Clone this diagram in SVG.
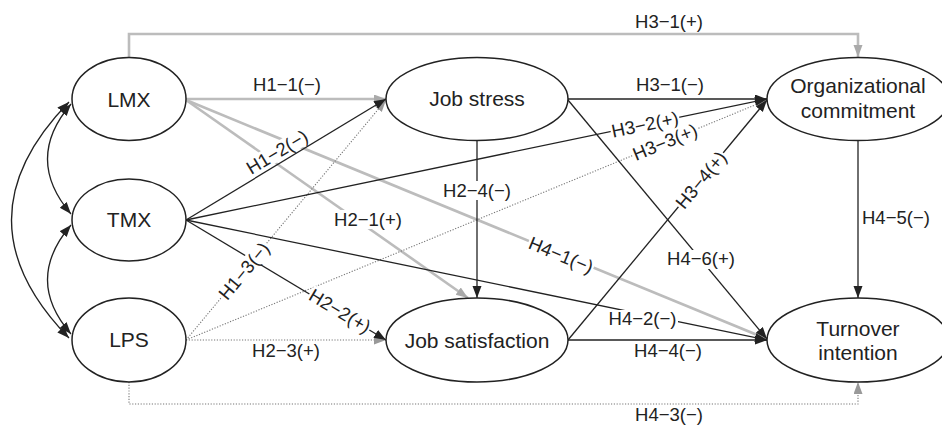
<svg xmlns="http://www.w3.org/2000/svg" width="942" height="428" viewBox="0 0 942 428">
<style>
.node ellipse{fill:#fff;stroke:#222;stroke-width:1.5}
.node text{font-family:"Liberation Sans",Arial,sans-serif;font-size:21px;fill:#222;text-anchor:middle}
.bk{stroke:#222;stroke-width:1.3;fill:none;marker-end:url(#ab)}
.gr{stroke:#bcbcbc;stroke-width:2.6;fill:none;marker-end:url(#ag)}
.dt{stroke:#777;stroke-width:1.1;stroke-dasharray:1.2 1.6;fill:none;marker-end:url(#ad)}
.bi{stroke:#222;stroke-width:1.3;fill:none;marker-start:url(#ab2);marker-end:url(#ab)}
.lbl text{font-family:"Liberation Sans",Arial,sans-serif;font-size:18.5px;fill:#222;text-anchor:middle}
.lbl rect{fill:#fff}
</style>
<defs>
<marker id="ab" markerUnits="userSpaceOnUse" markerWidth="13" markerHeight="10" refX="12" refY="4.5" orient="auto"><path d="M0,0 L12,4.5 L0,9 z" fill="#222"/></marker>
<marker id="ab2" markerUnits="userSpaceOnUse" markerWidth="13" markerHeight="10" refX="12" refY="4.5" orient="auto-start-reverse"><path d="M0,0 L12,4.5 L0,9 z" fill="#222"/></marker>
<marker id="ag" markerUnits="userSpaceOnUse" markerWidth="13" markerHeight="10" refX="12" refY="4.5" orient="auto"><path d="M0,0 L12,4.5 L0,9 z" fill="#aaa"/></marker>
<marker id="ad" markerUnits="userSpaceOnUse" markerWidth="13" markerHeight="10" refX="12" refY="4.5" orient="auto"><path d="M0,0 L12,4.5 L0,9 z" fill="#999"/></marker>
</defs>
<rect width="942" height="428" fill="#fff"/>
<g id="connectors">
<path class="gr" d="M129,57.5 V34 H858 V57"/>
<line class="gr" x1="186" y1="99" x2="386" y2="99"/>
<line class="gr" x1="186" y1="100" x2="468" y2="298"/>
<line class="gr" x1="186" y1="100" x2="767" y2="339"/>
<line class="dt" x1="186" y1="340" x2="386" y2="100"/>
<line class="dt" x1="186" y1="340" x2="386" y2="340"/>
<line class="dt" x1="186" y1="340" x2="767" y2="100"/>
<path class="dt" d="M129,382 V404 H858 V382"/>
<line class="bk" x1="186" y1="220" x2="386" y2="99"/>
<line class="bk" x1="186" y1="220" x2="767" y2="99"/>
<line class="bk" x1="186" y1="220" x2="767" y2="340"/>
<line class="bk" x1="186" y1="220" x2="386" y2="340"/>
<line class="bk" x1="568" y1="99" x2="767" y2="99"/>
<line class="bk" x1="568" y1="100" x2="767" y2="339"/>
<line class="bk" x1="477" y1="140.5" x2="477" y2="298"/>
<line class="bk" x1="568" y1="340" x2="767" y2="100"/>
<line class="bk" x1="568" y1="340" x2="767" y2="340"/>
<line class="bk" x1="858" y1="140.5" x2="858" y2="298"/>
<path class="bi" d="M71,104 Q24,159 71,214"/>
<path class="bi" d="M71,225 Q24,280 71,334"/>
<path class="bi" d="M69,102 Q-46,220 69,338"/>
<g class="lbl">
<text x="669" y="28">H3−1(+)</text>
<text x="287" y="91">H1−1(−)</text>
<text x="670" y="91">H3−1(−)</text>
<rect x="441" y="181" width="72" height="19"/><text x="477" y="197">H2−4(−)</text>
<rect x="333" y="210" width="70" height="19"/><text x="368" y="226">H2−1(+)</text>
<rect x="666" y="250" width="70" height="19"/><text x="701" y="265">H4−6(+)</text>
<rect x="607" y="310" width="71" height="19"/><text x="642.5" y="325">H4−2(−)</text>
<text x="668" y="357">H4−4(−)</text>
<text x="286" y="357">H2−3(+)</text>
<text x="862" y="224" style="text-anchor:start">H4−5(−)</text>
<text x="669" y="421">H4−3(−)</text>
<g transform="translate(277,152) rotate(-31)"><rect x="-35" y="-9" width="70" height="18"/><text x="0" y="6.5">H1−2(−)</text></g>
<g transform="translate(244,271) rotate(-50.3)"><rect x="-35" y="-9" width="70" height="18"/><text x="0" y="6.5">H1−3(−)</text></g>
<g transform="translate(340,311) rotate(31)"><rect x="-35" y="-9" width="70" height="18"/><text x="0" y="6.5">H2−2(+)</text></g>
<g transform="translate(645,124.5) rotate(-11.7)"><rect x="-35" y="-9" width="70" height="18"/><text x="0" y="6.5">H3−2(+)</text></g>
<g transform="translate(665,142) rotate(-22.4)"><rect x="-35" y="-9" width="70" height="18"/><text x="0" y="6.5">H3−3(+)</text></g>
<g transform="translate(701,180) rotate(-50.3)"><rect x="-35" y="-9" width="70" height="18"/><text x="0" y="6.5">H3−4(+)</text></g>
<g transform="translate(561,255) rotate(22.4)"><rect x="-35" y="-9" width="70" height="18"/><text x="0" y="6.5">H4−1(−)</text></g>
</g>
</g>
<g id="LMX" class="node"><ellipse cx="129" cy="99" rx="57" ry="41.5"/><text x="129" y="106.5">LMX</text></g>
<g id="TMX" class="node"><ellipse cx="129" cy="220" rx="57" ry="41"/><text x="129" y="227">TMX</text></g>
<g id="LPS" class="node"><ellipse cx="129" cy="340" rx="57" ry="42"/><text x="129" y="347">LPS</text></g>
<g id="JobStress" class="node"><ellipse cx="477" cy="99" rx="91" ry="41.5"/><text x="477" y="106">Job stress</text></g>
<g id="JobSatisfaction" class="node"><ellipse cx="477" cy="340" rx="91" ry="42"/><text x="477" y="347.5">Job satisfaction</text></g>
<g id="OrgCommitment" class="node"><ellipse cx="858" cy="99" rx="91" ry="41.5"/><text x="858" y="93">Organizational</text><text x="858" y="118">commitment</text></g>
<g id="Turnover" class="node"><ellipse cx="858" cy="340" rx="91" ry="42"/><text x="858" y="336">Turnover</text><text x="858" y="360">intention</text></g>
</svg>
